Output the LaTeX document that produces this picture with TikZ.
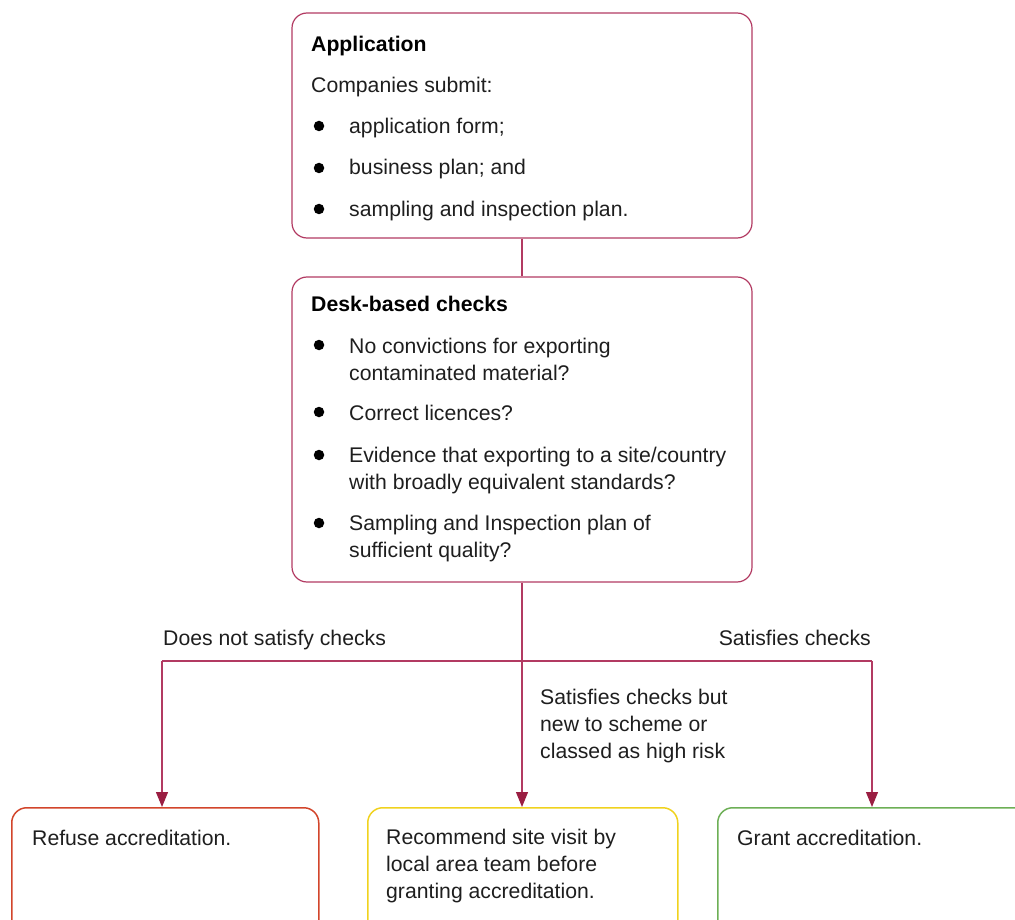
\documentclass[tikz,border=0pt]{standalone}
\usepackage{fontspec}
\setmainfont{Liberation Sans}
\usetikzlibrary{arrows.meta}
\definecolor{boxcol}{HTML}{B23A62}
\definecolor{arrcol}{HTML}{9A1E42}
\definecolor{redb}{HTML}{D2452B}
\definecolor{yelb}{HTML}{F0D21E}
\definecolor{grnb}{HTML}{6DAF56}
\definecolor{txt}{HTML}{1E1E1E}
\tikzset{
  box/.style={draw=boxcol, line width=1.2pt, rounded corners=15pt, inner sep=0pt},
  outbox/.style={draw=#1, line width=1.5pt, rounded corners=15pt, inner sep=0pt, minimum height=150pt},
  txtn/.style={anchor=base west, inner sep=0pt, align=left, text=txt, font=\fontsize{21.2}{27}\selectfont},
  ttl/.style={txtn, font=\fontsize{21.2}{27}\selectfont\bfseries, text=black},
  bul/.style={circle, fill=black, inner sep=0pt, minimum size=10.5pt},
  conn/.style={draw=boxcol, line width=1.2pt},
  arr/.style={draw=boxcol, line width=1.2pt, -{Triangle[width=12pt,length=15pt,color=arrcol]}}
}
\begin{document}
\begin{tikzpicture}[x=1pt,y=-1pt]
\useasboundingbox (0,0) rectangle (1015,920);
% boxes
\node[box, minimum width=460pt, minimum height=225pt] (app) at (522,125.5) {};
\node[box, minimum width=460pt, minimum height=305pt] (desk) at (522,429.5) {};
\node[outbox=redb, minimum width=307pt, anchor=north west] (refuse) at (11,807) {};
\node[outbox=yelb, minimum width=310pt, anchor=north west] (visit) at (367,807) {};
\node[outbox=grnb, minimum width=320pt, anchor=north west] (grant) at (717,807) {};
% application text
\node[ttl] (t1) at (311,52) {Application};
\node[txtn] (t2) at (311,93) {Companies submit:};
\node[bul] (b1) at (319,126) {};
\node[txtn] (t3) at (349,134) {application form;};
\node[bul] (b2) at (319,168) {};
\node[txtn] (t4) at (349,175) {business plan; and};
\node[bul] (b3) at (319,209) {};
\node[txtn] (t5) at (349,217) {sampling and inspection plan.};
% desk text
\node[ttl] (d1) at (311,311) {Desk-based checks};
\node[bul] (c1) at (319,345) {};
\node[txtn] (d2) at (349,380) {No convictions for exporting\\contaminated material?};
\node[bul] (c2) at (319,412) {};
\node[txtn] (d3) at (349,420) {Correct licences?};
\node[bul] (c3) at (319,455) {};
\node[txtn] (d4) at (349,489) {Evidence that exporting to a site/country\\with broadly equivalent standards?};
\node[bul] (c4) at (319,523) {};
\node[txtn] (d5) at (349,557) {Sampling and Inspection plan of\\sufficient quality?};
% connectors
\coordinate (jM) at (522,661);
\coordinate (jL) at (162,661);
\coordinate (jR) at (872,661);
\draw[conn] (app.south) -- (desk.north);
\draw[conn] (desk.south) -- (jM);
\draw[conn] (jL) -- (jR);
\draw[arr] (jL) -- (jL |- refuse.north);
\draw[arr] (jM) -- (jM |- visit.north);
\draw[arr] (jR) -- (jR |- grant.north);
% labels
\node[txtn] (l1) at (163,645) {Does not satisfy checks};
\node[txtn, anchor=base east] (l2) at (871,645) {Satisfies checks};
\node[txtn] (l3) at (540,758) {Satisfies checks but\\new to scheme or\\classed as high risk};
% outcome text
\node[txtn] (o1) at (32,845) {Refuse accreditation.};
\node[txtn] (o2) at (386,898) {Recommend site visit by\\local area team before\\granting accreditation.};
\node[txtn] (o3) at (737,845) {Grant accreditation.};
\end{tikzpicture}
\end{document}
